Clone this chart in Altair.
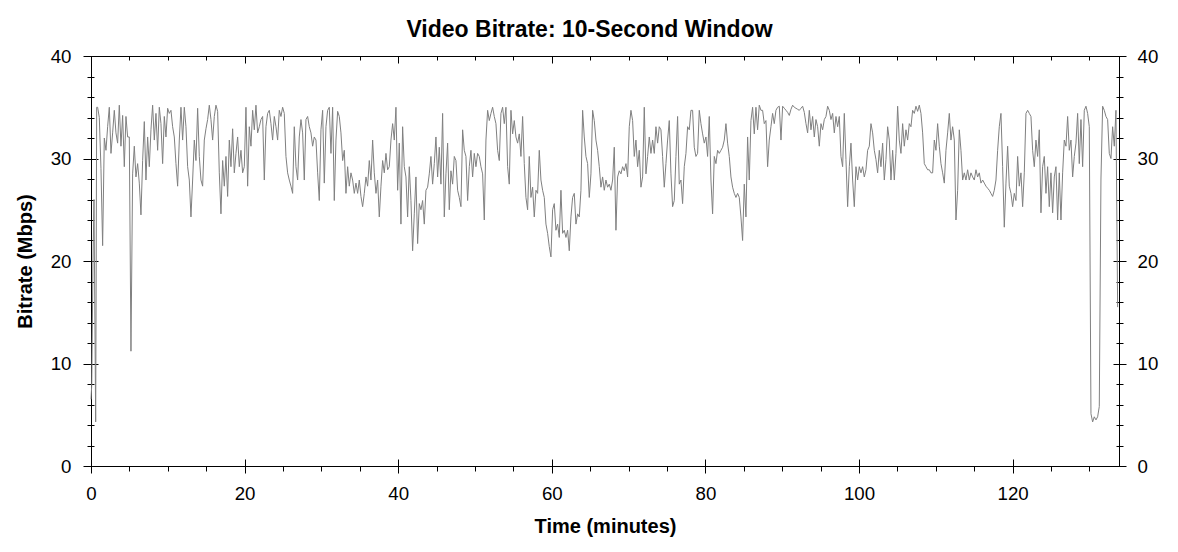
import altair as alt
import pandas as pd

# ---- data (Mbps per 10-second window) ----
lead_minutes = [0.0, 0.1, 0.26, 0.39, 0.61, 0.74]
lead_mbps = [6.5, 8.0, 20.0, 26.0, 4.3, 35.0]

step_minutes = 0.217
seg1_start = 0.864
seg2_start = 40.14
seg3_start = 89.62

seg1_mbps = [
    35.0, 34.0, 29.0, 21.5, 32.0, 30.8, 33.1, 35.0, 30.5, 32.5,
    34.7, 32.5, 31.5, 35.2, 31.2, 34.2, 29.2, 34.1, 32.1, 32.1,
    11.2, 28.5, 31.2, 28.2, 29.5, 27.6, 24.5, 29.8, 33.6, 27.9,
    32.1, 29.2, 32.8, 35.2, 31.8, 34.4, 30.8, 35.0, 33.4, 29.5,
    34.1, 32.1, 34.9, 34.4, 34.7, 33.1, 32.1, 29.5, 27.3, 31.8,
    35.0, 31.8, 35.0, 33.1, 29.2, 27.9, 24.3, 27.9, 31.8, 29.8,
    34.9, 30.2, 27.9, 27.3, 31.8, 32.9, 33.8, 35.2, 33.8, 31.8,
    34.1, 35.2, 34.6, 28.6, 24.6, 29.8, 27.3, 30.2, 26.3, 31.8,
    29.2, 32.9, 28.6, 30.5, 32.1, 29.2, 30.8, 28.6, 29.2, 35.0,
    27.3, 33.1, 31.2, 34.7, 32.8, 35.2, 32.5, 33.1, 33.8, 34.1,
    27.9, 33.1, 34.4, 34.7, 33.4, 31.8, 34.1, 33.1, 31.8, 34.7,
    34.1, 35.0, 34.4, 30.2, 28.6, 27.9, 27.3, 26.6, 33.1, 29.2,
    27.9, 32.1, 33.8, 32.5, 27.9, 33.8, 34.1, 33.1, 32.5, 31.2,
    32.1, 31.8, 28.6, 25.9, 32.8, 34.7, 27.6, 33.1, 34.7, 35.0,
    30.5, 35.0, 25.9, 31.8, 34.6, 34.1, 32.5, 29.8, 30.8, 26.6,
    29.2, 27.3, 28.6, 27.9, 26.6, 27.6, 26.6, 27.9, 26.3, 25.3,
    26.6, 28.2, 27.3, 29.8, 27.9, 31.8, 28.6, 26.6, 27.9, 24.3,
    27.3, 29.8, 28.6, 30.5, 28.9, 29.2, 31.8, 33.4, 31.8, 35.0,
    26.9,
]

seg2_mbps = [
    31.5, 23.6, 33.1, 29.2, 28.2, 24.3, 29.2, 25.9, 21.0, 24.6,
    28.2, 21.7, 25.6, 25.0, 25.9, 23.6, 26.9, 27.2, 28.5, 30.2,
    27.5, 29.5, 32.1, 28.2, 31.1, 27.5, 34.4, 24.3, 28.5, 31.5,
    25.0, 28.8, 27.5, 30.2, 29.8, 26.9, 26.2, 25.3, 32.8, 30.8,
    30.2, 25.9, 29.2, 30.8, 28.2, 30.5, 29.2, 30.5, 30.2, 29.2,
    28.5, 24.0, 31.8, 34.7, 33.7, 34.4, 35.0, 34.1, 33.4, 30.8,
    29.8, 34.4, 35.0, 33.4, 35.0, 29.2, 27.5, 34.7, 32.4, 33.7,
    32.1, 31.5, 32.4, 30.2, 34.1, 29.5, 26.2, 25.0, 30.2, 26.2,
    27.2, 24.3, 26.9, 26.6, 30.8, 27.9, 26.9, 26.2, 23.6, 22.7,
    21.4, 20.4, 25.0, 25.6, 23.0, 23.6, 22.3, 26.9, 22.7, 23.0,
    22.3, 23.0, 21.0, 24.3, 26.2, 26.6, 23.6, 24.6, 24.3, 26.9,
    34.7, 32.1, 30.2, 29.5, 26.2, 28.5, 34.7, 33.7, 31.8, 30.8,
    29.2, 27.2, 28.2, 26.9, 27.9, 27.2, 27.5, 26.9, 27.9, 31.1,
    23.0, 28.2, 28.8, 28.5, 29.2, 28.8, 29.5, 28.2, 33.1, 34.7,
    33.7, 30.2, 31.8, 29.2, 30.8, 27.2, 28.2, 35.0, 28.5, 30.2,
    32.1, 30.5, 31.8, 30.5, 33.1, 31.5, 33.1, 32.8, 30.2, 27.2,
    29.5, 31.8, 33.7, 28.5, 25.3, 25.9, 30.2, 34.1, 27.5, 27.9,
    25.6, 29.2, 30.5, 33.1, 32.8, 34.7, 34.7, 31.1, 30.2, 30.5,
    34.7, 33.4, 32.4, 31.5, 32.1, 30.2, 34.1, 27.9, 24.6, 30.2,
    29.5, 30.8, 30.5, 30.8, 31.1, 31.8, 33.4, 31.5, 30.2, 28.2,
    27.2, 26.6, 26.2, 26.6, 26.2, 24.3, 22.0, 27.5, 24.3, 32.1,
    27.9, 33.7, 35.0, 32.4, 35.0, 32.8, 35.2, 34.7, 34.7, 33.4,
    33.7, 29.2, 31.8, 33.1, 34.4, 33.4, 34.7, 35.0,
]

seg3_mbps = [
    35.1, 31.8, 35.1, 34.9, 34.7, 34.5, 34.2, 34.8, 35.2, 35.0,
    34.9, 34.8, 34.7, 34.9, 35.1, 34.5, 33.4, 32.5, 34.7, 32.8,
    34.1, 32.1, 33.8, 33.1, 31.2, 33.4, 32.8, 33.8, 34.1, 35.1,
    34.7, 33.8, 34.4, 32.5, 34.1, 33.1, 34.1, 30.2, 29.2, 34.4,
    29.9, 25.3, 29.2, 31.5, 27.9, 25.3, 29.2, 27.9, 29.2, 28.6,
    29.2, 28.2, 28.9, 30.8, 31.2, 33.4, 32.5, 30.8, 29.9, 28.6,
    30.8, 29.2, 31.5, 27.9, 29.9, 33.1, 31.8, 27.9, 30.8, 27.9,
    30.5, 35.1, 31.8, 30.5, 33.4, 31.2, 32.8, 31.8, 33.4, 33.1,
    34.7, 34.4, 35.1, 34.6, 35.2, 34.4, 32.5, 29.5, 29.2, 28.9,
    28.9, 28.6, 28.6, 31.8, 30.8, 33.4, 31.2, 29.5, 28.6, 27.6,
    30.8, 32.5, 34.4, 31.8, 33.1, 31.8, 24.0, 26.9, 32.8, 30.8,
    27.9, 28.6, 27.9, 28.9, 27.9, 28.6, 28.2, 27.9, 28.9, 28.2,
    28.6, 27.6, 27.9, 27.6, 27.3, 27.1, 26.9, 26.6, 26.3, 26.9,
    27.9, 30.8, 33.1, 34.4, 29.2, 23.3, 27.6, 31.2, 27.3, 26.6,
    25.3, 26.6, 25.9, 30.2, 27.3, 28.6, 25.3, 28.6, 34.4, 34.7,
    34.4, 34.1, 30.8, 29.2, 31.8, 30.2, 32.8, 24.7, 29.2, 30.2,
    26.6, 29.2, 25.3, 28.6, 24.7, 28.2, 29.2, 24.0, 28.6, 24.0,
    28.6, 31.8, 31.2, 34.1, 30.8, 31.8, 28.2, 30.2, 31.5, 34.4,
    29.5, 33.8, 29.2, 34.7, 35.1, 34.4, 33.1, 5.1, 4.3, 4.8,
    4.5, 4.8, 5.8, 28.0, 35.1, 34.7, 34.1, 33.8, 30.5, 30.0,
    33.1, 31.2, 34.7, 15.5,
]

x_major = [0, 20, 40, 60, 80, 100, 120]
x_minor = list(range(0, 135, 5))
y_major = [0, 10, 20, 30, 40]
y_minor = list(range(0, 41, 2))

chart_title = "Video Bitrate: 10-Second Window"
x_title = "Time (minutes)"
y_title = "Bitrate (Mbps)"

# ---- build table ----
minutes = list(lead_minutes)
mbps = list(lead_mbps)
for start, vals in [(seg1_start, seg1_mbps), (seg2_start, seg2_mbps), (seg3_start, seg3_mbps)]:
    for i, v in enumerate(vals):
        minutes.append(round(start + i * step_minutes, 3))
        mbps.append(v)
df = pd.DataFrame({"minutes": minutes, "mbps": mbps})

FONT = "Liberation Sans, Arial, Helvetica, sans-serif"
xscale = alt.Scale(domain=[0, 133.85], nice=False, zero=False)
yscale = alt.Scale(domain=[0, 40], nice=False, zero=False)


def tick_axis(orient, values, size, offset=0, **extra):
    kw = dict(orient=orient, values=values, tickSize=size, offset=offset,
              grid=False, labels=False, domain=False, title=None,
              tickColor="black", tickWidth=1)
    kw.update(extra)
    return alt.Axis(**kw)


x_main = alt.Axis(
    orient="bottom", values=x_major, tickSize=7, grid=False,
    domain=True, domainColor="black", domainWidth=1,
    tickColor="black", tickWidth=1, format="d",
    labels=True, labelFont=FONT, labelFontSize=18.7, labelColor="black",
    labelBaseline="alphabetic", labelPadding=26, labelFlush=False, labelOverlap=False,
    title=x_title, titleFont=FONT, titleFontSize=20, titleFontWeight="bold",
    titleColor="black", titleBaseline="alphabetic", titleX=514, titleY=66,
)
y_main = alt.Axis(
    orient="left", values=y_major, tickSize=8, grid=False,
    domain=True, domainColor="black", domainWidth=1,
    tickColor="black", tickWidth=1, format="d",
    labels=True, labelFont=FONT, labelFontSize=18.7, labelColor="black",
    labelBaseline="middle", labelPadding=12, labelFlush=False, labelOverlap=False,
    title=y_title, titleFont=FONT, titleFontSize=20, titleFontWeight="bold",
    titleColor="black", titleAngle=270, titleBaseline="alphabetic",
    titleX=-60, titleY=205,
)
y_right = alt.Axis(
    orient="right", values=y_major, tickSize=7, grid=False,
    domain=True, domainColor="black", domainWidth=1,
    tickColor="black", tickWidth=1, format="d",
    labels=True, labelFont=FONT, labelFontSize=18.7, labelColor="black",
    labelBaseline="middle", labelAlign="left", labelPadding=11, labelFlush=False,
    labelOverlap=False, title=None,
)
# top edge: domain line + the chart title
x_top = alt.Axis(
    orient="top", values=x_major, ticks=False, grid=False,
    domain=True, domainColor="black", domainWidth=1, labels=False,
    title=chart_title, titleFont=FONT, titleFontSize=23, titleFontWeight="bold",
    titleColor="black", titleBaseline="alphabetic", titleX=498, titleY=-20,
)

base = alt.Chart(df)


def layer(xaxis, yaxis, visible=False):
    mark = base.mark_line(color="#808080", strokeWidth=1,
                          strokeOpacity=1 if visible else 0)
    return mark.encode(
        x=alt.X("minutes:Q", scale=xscale, axis=xaxis),
        y=alt.Y("mbps:Q", scale=yscale, axis=yaxis),
    )


layers = [
    layer(x_main, y_main, visible=True),
    layer(tick_axis("bottom", x_minor, 5), tick_axis("left", y_minor, 4)),
    layer(tick_axis("bottom", x_major, 7, offset=-7), tick_axis("left", y_major, 7, offset=-7)),
    layer(x_top, tick_axis("left", y_minor, 3, offset=-3)),
    layer(tick_axis("top", x_major, 7, offset=-7), y_right),
    layer(tick_axis("top", x_minor, 4, offset=-4), tick_axis("right", y_minor, 4)),
    layer(None, tick_axis("right", y_major, 6, offset=-6)),
    layer(None, tick_axis("right", y_minor, 3, offset=-3)),
]

chart = (
    alt.layer(*layers)
    .resolve_axis(x="independent", y="independent")
    .properties(
        width=1028,
        height=410,
        autosize=alt.AutoSizeParams(type="none"),
        padding={"left": 83, "top": 48, "right": 48, "bottom": 76},
        background="white",
    )
    .configure_view(stroke=None)
)

chart.save("out.html", embed_options={"renderer": "svg", "actions": False})
